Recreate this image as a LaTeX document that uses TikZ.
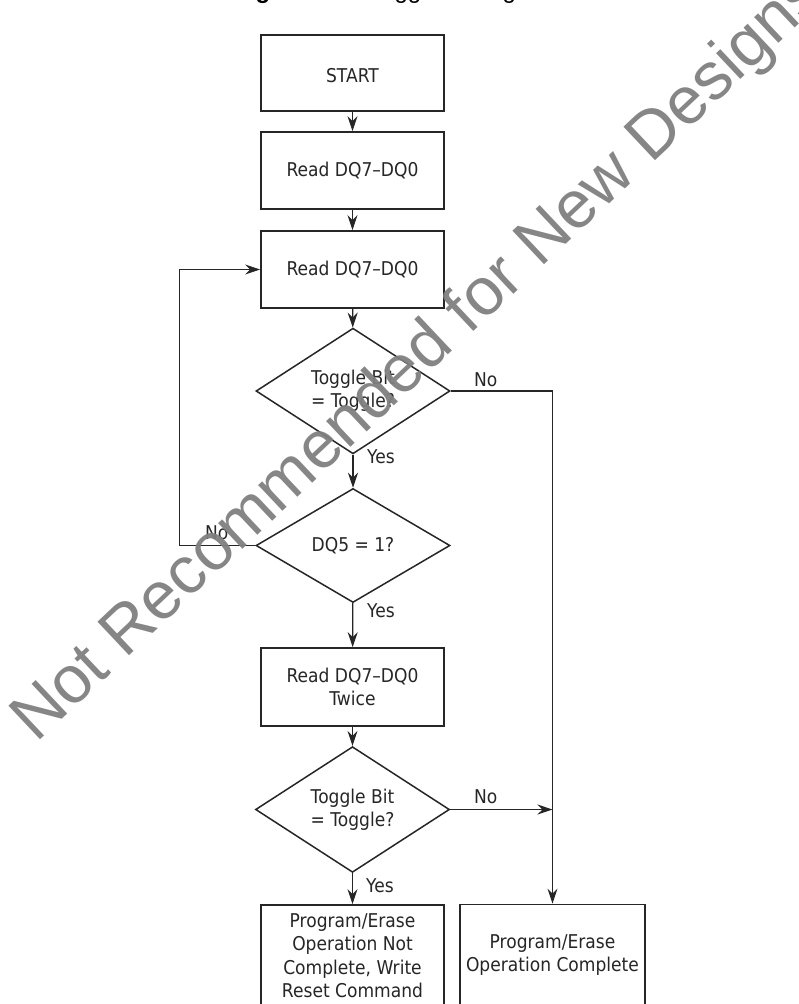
\documentclass[tikz,border=0pt]{standalone}
\usepackage{fontspec}
\setmainfont{DejaVu Sans}[FakeStretch=0.9]
\newfontfamily\arialf{Liberation Sans}
\usetikzlibrary{shapes.geometric,arrows.meta}
\begin{document}
\begin{tikzpicture}[x=1pt,y=-1pt,
  txt/.style={font=\fontsize{19}{23.5}\selectfont, text=black!85},
  box/.style={txt, draw=black!85, line width=1.7pt, minimum width=183pt, inner sep=0pt, align=center},
  dia/.style={txt, diamond, draw=black!85, line width=1.5pt, minimum width=194pt, minimum height=114pt, inner sep=0pt, align=center},
  conn/.style={draw=black!85, line width=1.2pt},
  arr/.style={conn, -{Stealth[length=15pt,width=10pt,inset=5pt]}},
  lab/.style={txt, anchor=base west, inner sep=0pt}]
\useasboundingbox (0,0) rectangle (799,1004);
\node[font=\arialf\fontsize{24}{24}\selectfont, anchor=base west, inner sep=0pt] (title) at (234,-2) {{\bfseries Figure 6.}\hspace{35pt}Toggle Bit Algorithm};

\node[box, minimum height=76pt, text height=20pt] (start) at (352.5,73) {START};
\node[box, minimum height=77pt] (r1) at (352.5,170.5) {Read DQ7–DQ0};
\node[box, minimum height=77pt] (r2) at (352.5,269.5) {Read DQ7–DQ0};
\node[dia] (d1) at (353,391) {Toggle Bit\\= Toggle?};
\node[dia] (d2) at (353,545.5) {DQ5 = 1?};
\node[box, minimum height=78pt] (r3) at (352.5,687) {Read DQ7–DQ0\\Twice};
\node[dia, minimum height=115pt] (d3) at (352.5,809.5) {Toggle Bit\\= Toggle?};
\node[box, minimum height=101pt] (nc) at (352.5,955.5) {Program/Erase\\Operation Not\\Complete, Write\\Reset Command};
\node[box, minimum width=185pt, minimum height=101pt] (oc) at (552.5,955) {Program/Erase\\Operation Complete};

\draw[arr] (start) -- (r1);
\draw[arr] (r1) -- (r2);
\draw[arr] (r2) -- (d1);
\draw[arr] (d1) -- (d2);
\draw[arr] (d2) -- (r3);
\draw[arr] (r3) -- (d3);
\draw[arr] (d3) -- (nc);
\draw[arr] (d1.east) -| (oc.north);
\draw[arr] (d3.east) -- (d3.east -| oc.north);
\draw[arr] (d2.west) -- ++(-76,0) |- (r2.west);

\node[lab] (n1) at (474,386) {No};
\node[lab] (y1) at (367,463) {Yes};
\node[lab] (n2) at (205,539) {No};
\node[lab] (y2) at (367,617) {Yes};
\node[lab] (y3) at (366,892) {Yes};
\node[lab] (n3) at (474,803) {No};

\node[rotate=43.3, anchor=base west, text=black!50, opacity=0.95, font=\arialf\fontsize{67}{67}\selectfont, inner sep=0pt] (wm) at (36,744) {Not Recommended for New Designs};
\end{tikzpicture}
\end{document}
